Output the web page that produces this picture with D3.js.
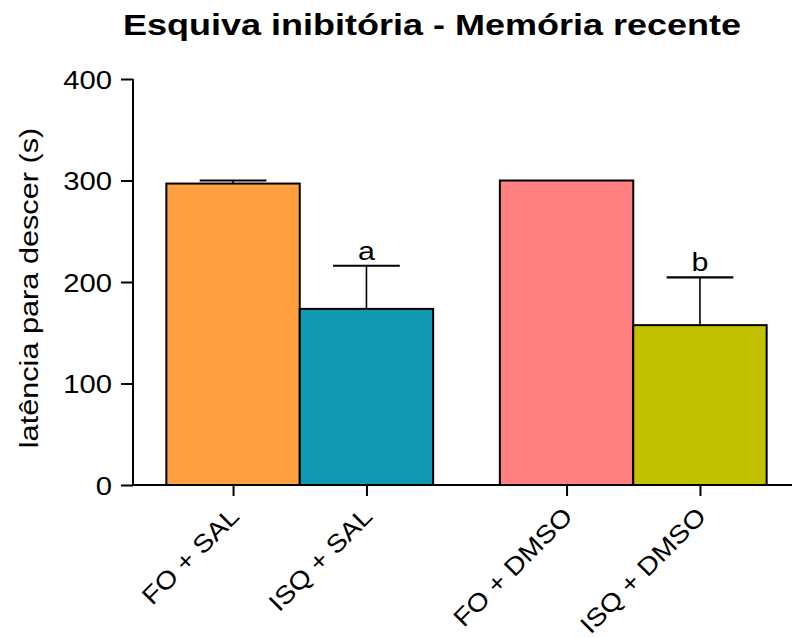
<!DOCTYPE html>
<html>
<head>
<meta charset="utf-8">
<script src="https://cdn.jsdelivr.net/npm/d3@7"></script>
<style>
  html, body { margin: 0; padding: 0; background: #fff; }
  svg { display: block; font-family: "Liberation Sans", Arial, sans-serif; }
</style>
</head>
<body>
<svg id="chart" width="792" height="638"></svg>
<script>
// Inhibitory avoidance – recent memory: step-down latency per group
const categories = ["FO + SAL", "ISQ + SAL", "FO + DMSO", "ISQ + DMSO"];
const groupOf = [0, 0, 1, 1];            // vehicle group (SAL / DMSO)
const means = [297, 173.5, 300, 157.5];
const sems = [3, 42.5, 0, 47];
const sigLabels = ["", "a", "", "b"];
const colors = ["#FFA040", "#1199B4", "#FF8080", "#C1C100"];
const yTicks = [0, 100, 200, 300, 400];

const FONT = "Liberation Sans, Arial, sans-serif";
const WIDE = 1.17;   // horizontal stretch applied to text
const svg = d3.select("#chart");

const plot = { left: 133, right: 792, top: 79, bottom: 485 };

// Slot layout: bars are 1 unit wide, a quarter-unit margin at the left,
// and a half-unit gap between the two vehicle groups.
const slot = (i) => 0.75 + groupOf[i] * 2.5 + (i - groupOf[i] * 2);
const x = d3.scaleLinear().domain([0, 4.94]).range([plot.left, plot.right]);
const barW = x(1) - x(0);

const y = d3.scaleLinear().domain([0, 400]).range([plot.bottom, plot.top]);

// Title
svg.append("text")
  .attr("transform", "translate(432,35) scale(1.2,1)")
  .attr("text-anchor", "middle")
  .attr("font-size", 30).attr("font-weight", "bold")
  .text("Esquiva inibitória - Memória recente");

// Bars
svg.append("g").selectAll("rect")
  .data(categories)
  .join("rect")
  .attr("x", (d, i) => x(slot(i)) - barW / 2)
  .attr("width", barW)
  .attr("y", (d, i) => y(means[i]))
  .attr("height", (d, i) => y(0) - y(means[i]))
  .attr("fill", (d, i) => colors[i])
  .attr("stroke", "#000")
  .attr("stroke-width", 2);

// Upper error bars (SEM) with significance letters
const eb = svg.append("g").attr("stroke", "#000");
categories.forEach((c, i) => {
  if (!sems[i]) return;
  const cx = x(slot(i));
  const top = y(means[i] + sems[i]);
  eb.append("line")
    .attr("x1", cx).attr("x2", cx)
    .attr("y1", y(means[i])).attr("y2", top)
    .attr("stroke-width", 1.6);
  eb.append("line")
    .attr("x1", cx - barW / 4).attr("x2", cx + barW / 4)
    .attr("y1", top).attr("y2", top)
    .attr("stroke-width", 2.2);
  if (sigLabels[i]) {
    svg.append("text")
      .attr("transform", `translate(${cx},${top - 6}) scale(${WIDE},1)`)
      .attr("text-anchor", "middle")
      .attr("font-size", 26)
      .text(sigLabels[i]);
  }
});

// Y axis
const yAxis = svg.append("g")
  .attr("transform", `translate(${plot.left},0)`)
  .call(d3.axisLeft(y).tickValues(yTicks).tickSize(12).tickPadding(4));
yAxis.select(".domain").attr("stroke-width", 2).attr("d", `M0,${y(400)}V${y(0)}`);
yAxis.selectAll(".tick line").attr("stroke-width", 2);
yAxis.selectAll(".tick text")
  .attr("font-size", 25).attr("fill", "#000")
  .attr("font-family", FONT)
  .attr("x", 0).attr("dy", "0.36em")
  .attr("transform", `translate(-21,0) scale(${WIDE},1)`);

// X axis
const xAxis = svg.append("g")
  .attr("transform", `translate(0,${plot.bottom})`)
  .call(d3.axisBottom(x)
    .tickValues(categories.map((c, i) => slot(i)))
    .tickFormat((d, k) => categories[k])
    .tickSize(11).tickPadding(0));
xAxis.select(".domain").attr("stroke-width", 2).attr("d", `M${plot.left},0H${plot.right}`);
xAxis.selectAll(".tick line").attr("stroke-width", 2);
xAxis.selectAll(".tick text")
  .attr("font-size", 25).attr("fill", "#000")
  .attr("font-family", FONT)
  .attr("text-anchor", "end")
  .attr("y", 0).attr("dy", 0)
  .attr("transform", "translate(7,33) rotate(-45) scale(1.13,1)");

// Y axis title
svg.append("text")
  .attr("transform", `translate(38,288) rotate(-90) scale(1.18,1)`)
  .attr("text-anchor", "middle")
  .attr("font-size", 26)
  .text("latência para descer (s)");
</script>
</body>
</html>
